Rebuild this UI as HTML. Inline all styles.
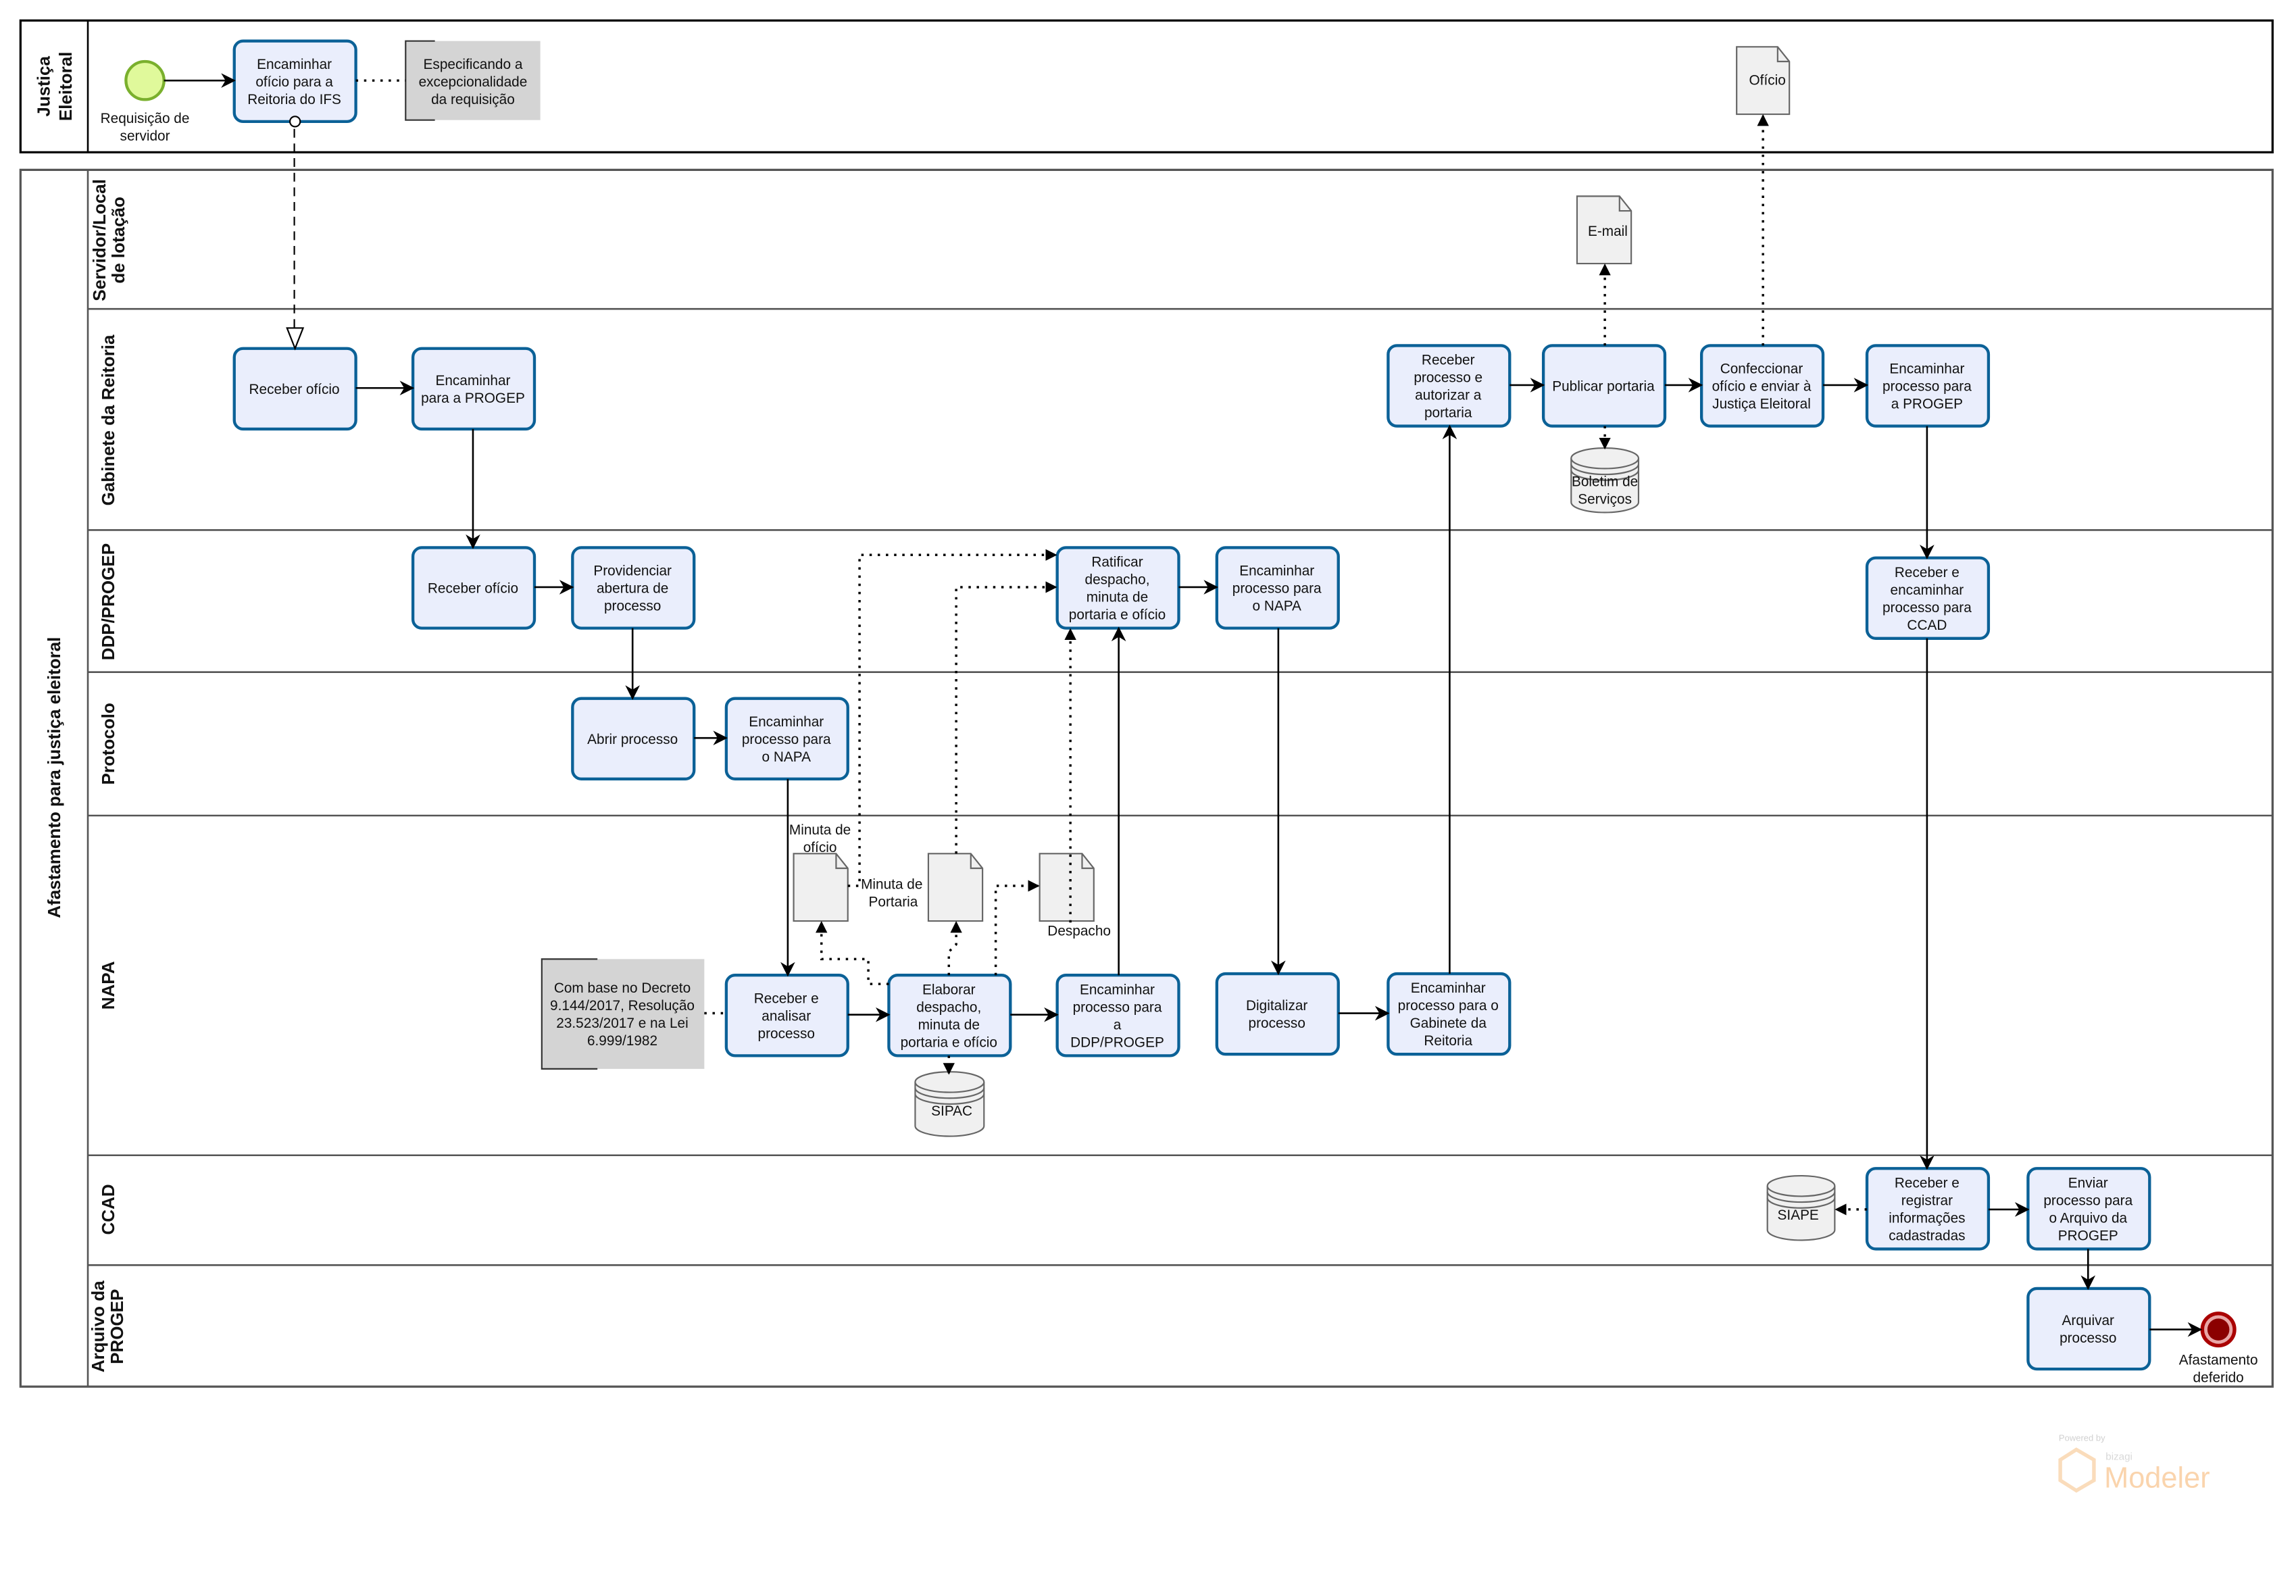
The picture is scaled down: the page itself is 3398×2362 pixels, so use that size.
<!DOCTYPE html>
<html><head><meta charset="utf-8"><style>
html,body{margin:0;padding:0;background:#fff;}
svg{display:block;}
text{font-family:"Liberation Sans Narrow","Liberation Sans",sans-serif;fill:#111;}
.t{font-size:9.6px;text-anchor:middle;}
.lane{font-family:"Liberation Sans",sans-serif;font-weight:bold;font-size:12px;text-anchor:middle;}
.task{fill:#eaeefc;stroke:#0b6197;stroke-width:2;}
.ln{stroke:#555;stroke-width:1.2;fill:none;}
.sf{stroke:#000;stroke-width:1.2;fill:none;}
.dot{stroke:#000;stroke-width:1.6;fill:none;stroke-dasharray:1.6 4;}
.doc{fill:#f0f0f0;stroke:#666;stroke-width:1;}
</style></head><body>
<svg width="3398" height="2362" viewBox="0 0 1568 1090" preserveAspectRatio="none" xmlns="http://www.w3.org/2000/svg">
<defs>
<marker id="a" markerWidth="10" markerHeight="10" refX="9" refY="5" orient="auto" markerUnits="userSpaceOnUse"><path d="M0,0 L10,5 L0,10 L3,5 z" fill="#000"/></marker>
<marker id="s" markerWidth="8" markerHeight="8" refX="7" refY="4" orient="auto" markerUnits="userSpaceOnUse"><path d="M0,0 L8,4 L0,8 z" fill="#000"/></marker>
</defs>
<rect width="1568" height="1090" fill="#fff"/>
<!-- Pool 1 -->
<rect x="14" y="14" width="1538" height="90" fill="none" stroke="#000" stroke-width="1.5"/>
<line x1="60" y1="14" x2="60" y2="104" stroke="#000" stroke-width="1.2"/>
<text class="lane" font-size="15.5" transform="translate(37,59) rotate(-90)"><tspan x="0" y="-3">Justiça</tspan><tspan x="0" y="12">Eleitoral</tspan></text>
<!-- Pool 2 -->
<rect x="14" y="116" width="1538" height="831" fill="none" stroke="#555" stroke-width="1.5"/>
<line x1="60" y1="116" x2="60" y2="947" class="ln"/>
<text class="lane" font-size="15.5" transform="translate(41,531) rotate(-90)">Afastamento para justiça eleitoral</text>
<line x1="60" y1="211" x2="1552" y2="211" class="ln"/>
<line x1="60" y1="362" x2="1552" y2="362" class="ln"/>
<line x1="60" y1="459" x2="1552" y2="459" class="ln"/>
<line x1="60" y1="557" x2="1552" y2="557" class="ln"/>
<line x1="60" y1="789" x2="1552" y2="789" class="ln"/>
<line x1="60" y1="864" x2="1552" y2="864" class="ln"/>
<text class="lane" transform="translate(75,164) rotate(-90)"><tspan x="0" y="-3">Servidor/Local</tspan><tspan x="0" y="10">de lotação</tspan></text>
<text class="lane" transform="translate(78,287) rotate(-90)">Gabinete da Reitoria</text>
<text class="lane" transform="translate(78,411) rotate(-90)">DDP/PROGEP</text>
<text class="lane" transform="translate(78,508) rotate(-90)">Protocolo</text>
<text class="lane" transform="translate(78,673) rotate(-90)">NAPA</text>
<text class="lane" transform="translate(78,826) rotate(-90)">CCAD</text>
<text class="lane" transform="translate(74,906) rotate(-90)"><tspan x="0" y="-3">Arquivo da</tspan><tspan x="0" y="10">PROGEP</tspan></text>

<!-- start event -->
<circle cx="99" cy="55" r="13" fill="#e0f99b" stroke="#7ab02d" stroke-width="2"/>
<text class="t" x="99" y="84">Requisição de</text><text class="t" x="99" y="96">servidor</text>
<!-- annotations -->
<rect x="277" y="28" width="92" height="54" fill="#d4d4d4"/>
<path d="M297,28 H277 V82 H297" fill="none" stroke="#333" stroke-width="1"/>
<text class="t" x="323" y="47">Especificando a</text><text class="t" x="323" y="59">excepcionalidade</text><text class="t" x="323" y="71">da requisição</text>
<rect x="370" y="655" width="111" height="75" fill="#d4d4d4"/>
<path d="M408,655 H370 V730 H408" fill="none" stroke="#333" stroke-width="1"/>
<text class="t" x="425" y="678">Com base no Decreto</text><text class="t" x="425" y="690">9.144/2017, Resolução</text><text class="t" x="425" y="702">23.523/2017 e na Lei</text><text class="t" x="425" y="714">6.999/1982</text>

<!-- tasks -->
<g>
<rect class="task" x="160" y="28" width="83" height="55" rx="6"/>
<text class="t" x="201" y="47">Encaminhar</text><text class="t" x="201" y="59">ofício para a</text><text class="t" x="201" y="71">Reitoria do IFS</text>
<rect class="task" x="160" y="238" width="83" height="55" rx="6"/>
<text class="t" x="201" y="269">Receber ofício</text>
<rect class="task" x="282" y="238" width="83" height="55" rx="6"/>
<text class="t" x="323" y="263">Encaminhar</text><text class="t" x="323" y="275">para a PROGEP</text>
<rect class="task" x="282" y="374" width="83" height="55" rx="6"/>
<text class="t" x="323" y="405">Receber ofício</text>
<rect class="task" x="391" y="374" width="83" height="55" rx="6"/>
<text class="t" x="432" y="393">Providenciar</text><text class="t" x="432" y="405">abertura de</text><text class="t" x="432" y="417">processo</text>
<rect class="task" x="391" y="477" width="83" height="55" rx="6"/>
<text class="t" x="432" y="508">Abrir processo</text>
<rect class="task" x="496" y="477" width="83" height="55" rx="6"/>
<text class="t" x="537" y="496">Encaminhar</text><text class="t" x="537" y="508">processo para</text><text class="t" x="537" y="520">o NAPA</text>
<rect class="task" x="496" y="666" width="83" height="55" rx="6"/>
<text class="t" x="537" y="685">Receber e</text><text class="t" x="537" y="697">analisar</text><text class="t" x="537" y="709">processo</text>
<rect class="task" x="607" y="666" width="83" height="55" rx="6"/>
<text class="t" x="648" y="679">Elaborar</text><text class="t" x="648" y="691">despacho,</text><text class="t" x="648" y="703">minuta de</text><text class="t" x="648" y="715">portaria e ofício</text>
<rect class="task" x="722" y="666" width="83" height="55" rx="6"/>
<text class="t" x="763" y="679">Encaminhar</text><text class="t" x="763" y="691">processo para</text><text class="t" x="763" y="703">a</text><text class="t" x="763" y="715">DDP/PROGEP</text>
<rect class="task" x="831" y="665" width="83" height="55" rx="6"/>
<text class="t" x="872" y="690">Digitalizar</text><text class="t" x="872" y="702">processo</text>
<rect class="task" x="948" y="665" width="83" height="55" rx="6"/>
<text class="t" x="989" y="678">Encaminhar</text><text class="t" x="989" y="690">processo para o</text><text class="t" x="989" y="702">Gabinete da</text><text class="t" x="989" y="714">Reitoria</text>
<rect class="task" x="722" y="374" width="83" height="55" rx="6"/>
<text class="t" x="763" y="387">Ratificar</text><text class="t" x="763" y="399">despacho,</text><text class="t" x="763" y="411">minuta de</text><text class="t" x="763" y="423">portaria e ofício</text>
<rect class="task" x="831" y="374" width="83" height="55" rx="6"/>
<text class="t" x="872" y="393">Encaminhar</text><text class="t" x="872" y="405">processo para</text><text class="t" x="872" y="417">o NAPA</text>
<rect class="task" x="948" y="236" width="83" height="55" rx="6"/>
<text class="t" x="989" y="249">Receber</text><text class="t" x="989" y="261">processo e</text><text class="t" x="989" y="273">autorizar a</text><text class="t" x="989" y="285">portaria</text>
<rect class="task" x="1054" y="236" width="83" height="55" rx="6"/>
<text class="t" x="1095" y="267">Publicar portaria</text>
<rect class="task" x="1162" y="236" width="83" height="55" rx="6"/>
<text class="t" x="1203" y="255">Confeccionar</text><text class="t" x="1203" y="267">ofício e enviar à</text><text class="t" x="1203" y="279">Justiça Eleitoral</text>
<rect class="task" x="1275" y="236" width="83" height="55" rx="6"/>
<text class="t" x="1316" y="255">Encaminhar</text><text class="t" x="1316" y="267">processo para</text><text class="t" x="1316" y="279">a PROGEP</text>
<rect class="task" x="1275" y="381" width="83" height="55" rx="6"/>
<text class="t" x="1316" y="394">Receber e</text><text class="t" x="1316" y="406">encaminhar</text><text class="t" x="1316" y="418">processo para</text><text class="t" x="1316" y="430">CCAD</text>
<rect class="task" x="1275" y="798" width="83" height="55" rx="6"/>
<text class="t" x="1316" y="811">Receber e</text><text class="t" x="1316" y="823">registrar</text><text class="t" x="1316" y="835">informações</text><text class="t" x="1316" y="847">cadastradas</text>
<rect class="task" x="1385" y="798" width="83" height="55" rx="6"/>
<text class="t" x="1426" y="811">Enviar</text><text class="t" x="1426" y="823">processo para</text><text class="t" x="1426" y="835">o Arquivo da</text><text class="t" x="1426" y="847">PROGEP</text>
<rect class="task" x="1385" y="880" width="83" height="55" rx="6"/>
<text class="t" x="1426" y="905">Arquivar</text><text class="t" x="1426" y="917">processo</text>
</g>
<!-- end event -->
<circle cx="1515" cy="908" r="11" fill="#e9a6a6" stroke="#a00" stroke-width="2.5"/>
<circle cx="1515" cy="908" r="7.5" fill="#8b0000"/>
<text class="t" x="1515" y="932">Afastamento</text><text class="t" x="1515" y="944">deferido</text>

<!-- documents -->
<g class="doc">
<path d="M1186,32 H1214 L1222,42 V78 H1186 Z"/><path d="M1214,32 V42 H1222" fill="none"/>
<path d="M1077,134 H1106 L1114,144 V180 H1077 Z"/><path d="M1106,134 V144 H1114" fill="none"/>
<path d="M542,583 H571 L579,593 V629 H542 Z"/><path d="M571,583 V593 H579" fill="none"/>
<path d="M634,583 H663 L671,593 V629 H634 Z"/><path d="M663,583 V593 H671" fill="none"/>
<path d="M710,583 H739 L747,593 V629 H710 Z"/><path d="M739,583 V593 H747" fill="none"/>
</g>
<text class="t" x="1207" y="58">Ofício</text>
<text class="t" x="1098" y="161">E-mail</text>
<text class="t" x="560" y="570">Minuta de</text><text class="t" x="560" y="582">ofício</text>
<text class="t" x="609" y="607">Minuta de</text><text class="t" x="610" y="619">Portaria</text>
<text class="t" x="737" y="639">Despacho</text>
<!-- databases -->
<g fill="#f0f0f0" stroke="#666" stroke-width="1">
<path d="M625,739 V769 A23.5,7 0 0 0 672,769 V739"/><ellipse cx="648.5" cy="739" rx="23.5" ry="7"/><path d="M625,743 A23.5,7 0 0 0 672,743 M625,747 A23.5,7 0 0 0 672,747" fill="none"/>
<path d="M1073,313 V343 A23,7 0 0 0 1119,343 V313"/><ellipse cx="1096" cy="313" rx="23" ry="7"/><path d="M1073,317 A23,7 0 0 0 1119,317 M1073,321 A23,7 0 0 0 1119,321" fill="none"/>
<path d="M1207,810 V840 A23,7 0 0 0 1253,840 V810"/><ellipse cx="1230" cy="810" rx="23" ry="7"/><path d="M1207,814 A23,7 0 0 0 1253,814 M1207,818 A23,7 0 0 0 1253,818" fill="none"/>
</g>
<text class="t" x="650" y="762">SIPAC</text>
<text class="t" x="1096" y="332">Boletim de</text><text class="t" x="1096" y="344">Serviços</text>
<text class="t" x="1228" y="833">SIAPE</text>

<!-- sequence flows -->
<g class="sf" marker-end="url(#a)">
<path d="M112,55 H160"/>
<path d="M243,265 H282"/>
<path d="M323,293 V374"/>
<path d="M365,401 H391"/>
<path d="M432,429 V477"/>
<path d="M474,504 H496"/>
<path d="M538,532 V666"/>
<path d="M579,693 H607"/>
<path d="M690,693 H722"/>
<path d="M764,666 V429"/>
<path d="M805,401 H831"/>
<path d="M873,429 V665"/>
<path d="M914,692 H948"/>
<path d="M990,665 V291"/>
<path d="M1031,263 H1054"/>
<path d="M1137,263 H1162"/>
<path d="M1245,263 H1275"/>
<path d="M1316,291 V381"/>
<path d="M1316,436 V798"/>
<path d="M1358,826 H1385"/>
<path d="M1426,853 V880"/>
<path d="M1468,908 H1503"/>
</g>
<!-- message flow -->
<path d="M201,88 V226" stroke="#000" stroke-width="1" stroke-dasharray="6 4" fill="none"/>
<circle cx="201.5" cy="83" r="3.5" fill="#fff" stroke="#000" stroke-width="1"/>
<path d="M196,224 L207,224 L201.5,238 Z" fill="#fff" stroke="#000" stroke-width="1"/>
<!-- associations -->
<path class="dot" d="M243,55 H277"/>
<path class="dot" d="M481,692 H496"/>
<g class="dot" marker-end="url(#s)">
<path d="M607,672 H593 V655 H561 V630"/>
<path d="M648,666 V650 L653,645 V630"/>
<path d="M680,666 V605 H709"/>
<path d="M648,721 V733"/>
<path d="M579,605 H587 V379 H721"/>
<path d="M653,583 V401 H721"/>
<path d="M731,630 V430"/>
<path d="M1096,236 V181"/>
<path d="M1096,291 V306"/>
<path d="M1204,236 V79"/>
<path d="M1275,826 H1254"/>
</g>
<!-- watermark -->
<g opacity="0.45">
<text x="1406" y="984" font-size="6" fill="#999" style="fill:#999">Powered by</text>
<path d="M1418,990 L1430,997 V1011 L1418,1018 L1407,1011 V997 Z" fill="none" stroke="#f6b36b" stroke-width="2.5"/>
<text x="1438" y="997" font-size="7" style="fill:#aaa">bizagi</text>
<text x="1437" y="1016" font-size="20" style="fill:#f6a24b">Modeler</text>
</g>
</svg>
</body></html>
